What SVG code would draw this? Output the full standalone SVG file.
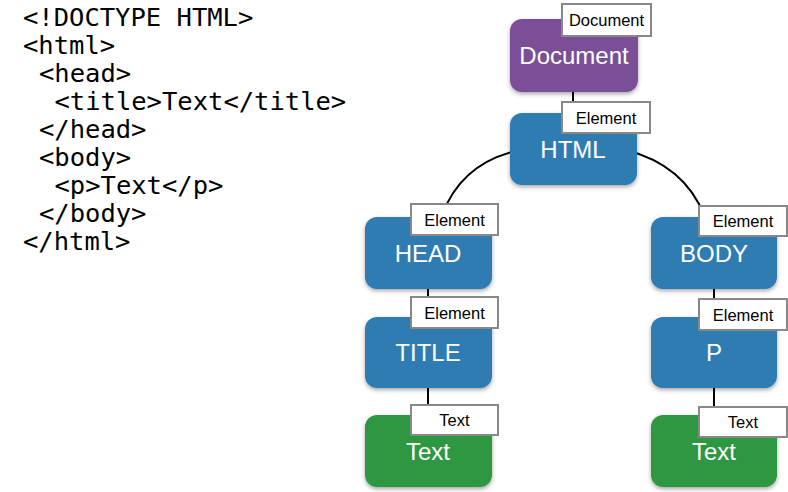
<svg xmlns="http://www.w3.org/2000/svg" width="788" height="492" viewBox="0 0 788 492">
<defs>
<filter id="sh" x="-10%" y="-10%" width="120%" height="130%">
<feDropShadow dx="0" dy="2" stdDeviation="2" flood-color="#000" flood-opacity="0.35"/>
</filter>
</defs>
<style>
.code{font-family:"DejaVu Sans Mono","Liberation Mono",monospace;font-size:25.5px;fill:#000}
.node{stroke:none;filter:url(#sh)}
.doc{fill:#7a4f98}
.el{fill:#2d7bb1}
.tx{fill:#2f9742}
.nt{font-family:"Liberation Sans",Arial,sans-serif;font-size:24px;fill:#fff;text-anchor:middle}
.lb{fill:#fff;stroke:#888;stroke-width:2}
.lt{font-family:"Liberation Sans",Arial,sans-serif;font-size:16.5px;fill:#000;text-anchor:middle}
.conn{stroke:#000;stroke-width:2;fill:none}
</style>
<rect width="788" height="492" fill="#fff"/>
<g id="code">
<text class="code" x="23" y="26">&lt;!DOCTYPE HTML&gt;</text>
<text class="code" x="23" y="54">&lt;html&gt;</text>
<text class="code" x="39" y="82">&lt;head&gt;</text>
<text class="code" x="54.5" y="110">&lt;title&gt;Text&lt;/title&gt;</text>
<text class="code" x="39" y="138">&lt;/head&gt;</text>
<text class="code" x="39" y="166">&lt;body&gt;</text>
<text class="code" x="54.5" y="194">&lt;p&gt;Text&lt;/p&gt;</text>
<text class="code" x="39" y="222">&lt;/body&gt;</text>
<text class="code" x="23" y="250">&lt;/html&gt;</text>
</g>
<g id="connectors">
<line class="conn" x1="573" y1="80" x2="573" y2="125"/>
<path class="conn" d="M 520 150 Q 462 162 442 215"/>
<path class="conn" d="M 626 150 Q 684 165 704 215"/>
<line class="conn" x1="428" y1="280" x2="428" y2="325"/>
<line class="conn" x1="428" y1="380" x2="428" y2="425"/>
<line class="conn" x1="714" y1="280" x2="714" y2="325"/>
<line class="conn" x1="714" y1="380" x2="714" y2="425"/>
</g>
<g id="document">
<rect class="node doc" x="510" y="19" width="128" height="73" rx="12"/>
<text class="nt" x="574" y="64">Document</text>
<rect class="lb" x="562" y="4" width="89" height="32"/>
<text class="lt" x="606.5" y="26">Document</text>
</g>
<g id="html">
<rect class="node el" x="510" y="113" width="127" height="72" rx="12"/>
<text class="nt" x="573" y="158">HTML</text>
<rect class="lb" x="562" y="102" width="88" height="31"/>
<text class="lt" x="606" y="124">Element</text>
</g>
<g id="head">
<rect class="node el" x="365" y="217" width="127" height="72" rx="12"/>
<text class="nt" x="428" y="262">HEAD</text>
<rect class="lb" x="411" y="204" width="87" height="31"/>
<text class="lt" x="454.5" y="226">Element</text>
</g>
<g id="title">
<rect class="node el" x="365" y="317" width="127" height="71" rx="12"/>
<text class="nt" x="428" y="361">TITLE</text>
<rect class="lb" x="411" y="297" width="87" height="31"/>
<text class="lt" x="454.5" y="319">Element</text>
</g>
<g id="text-left">
<rect class="node tx" x="365" y="415" width="127" height="72" rx="12"/>
<text class="nt" x="428" y="460">Text</text>
<rect class="lb" x="411" y="405" width="87" height="30"/>
<text class="lt" x="454.5" y="426">Text</text>
</g>
<g id="body">
<rect class="node el" x="651" y="217" width="126" height="72" rx="12"/>
<text class="nt" x="714" y="262">BODY</text>
<rect class="lb" x="699" y="206" width="88" height="30"/>
<text class="lt" x="743" y="227">Element</text>
</g>
<g id="p">
<rect class="node el" x="651" y="317" width="126" height="71" rx="12"/>
<text class="nt" x="714" y="361">P</text>
<rect class="lb" x="699" y="299" width="88" height="31"/>
<text class="lt" x="743" y="321">Element</text>
</g>
<g id="text-right">
<rect class="node tx" x="651" y="415" width="126" height="72" rx="12"/>
<text class="nt" x="714" y="460">Text</text>
<rect class="lb" x="699" y="407" width="88" height="30"/>
<text class="lt" x="743" y="428">Text</text>
</g>
</svg>
